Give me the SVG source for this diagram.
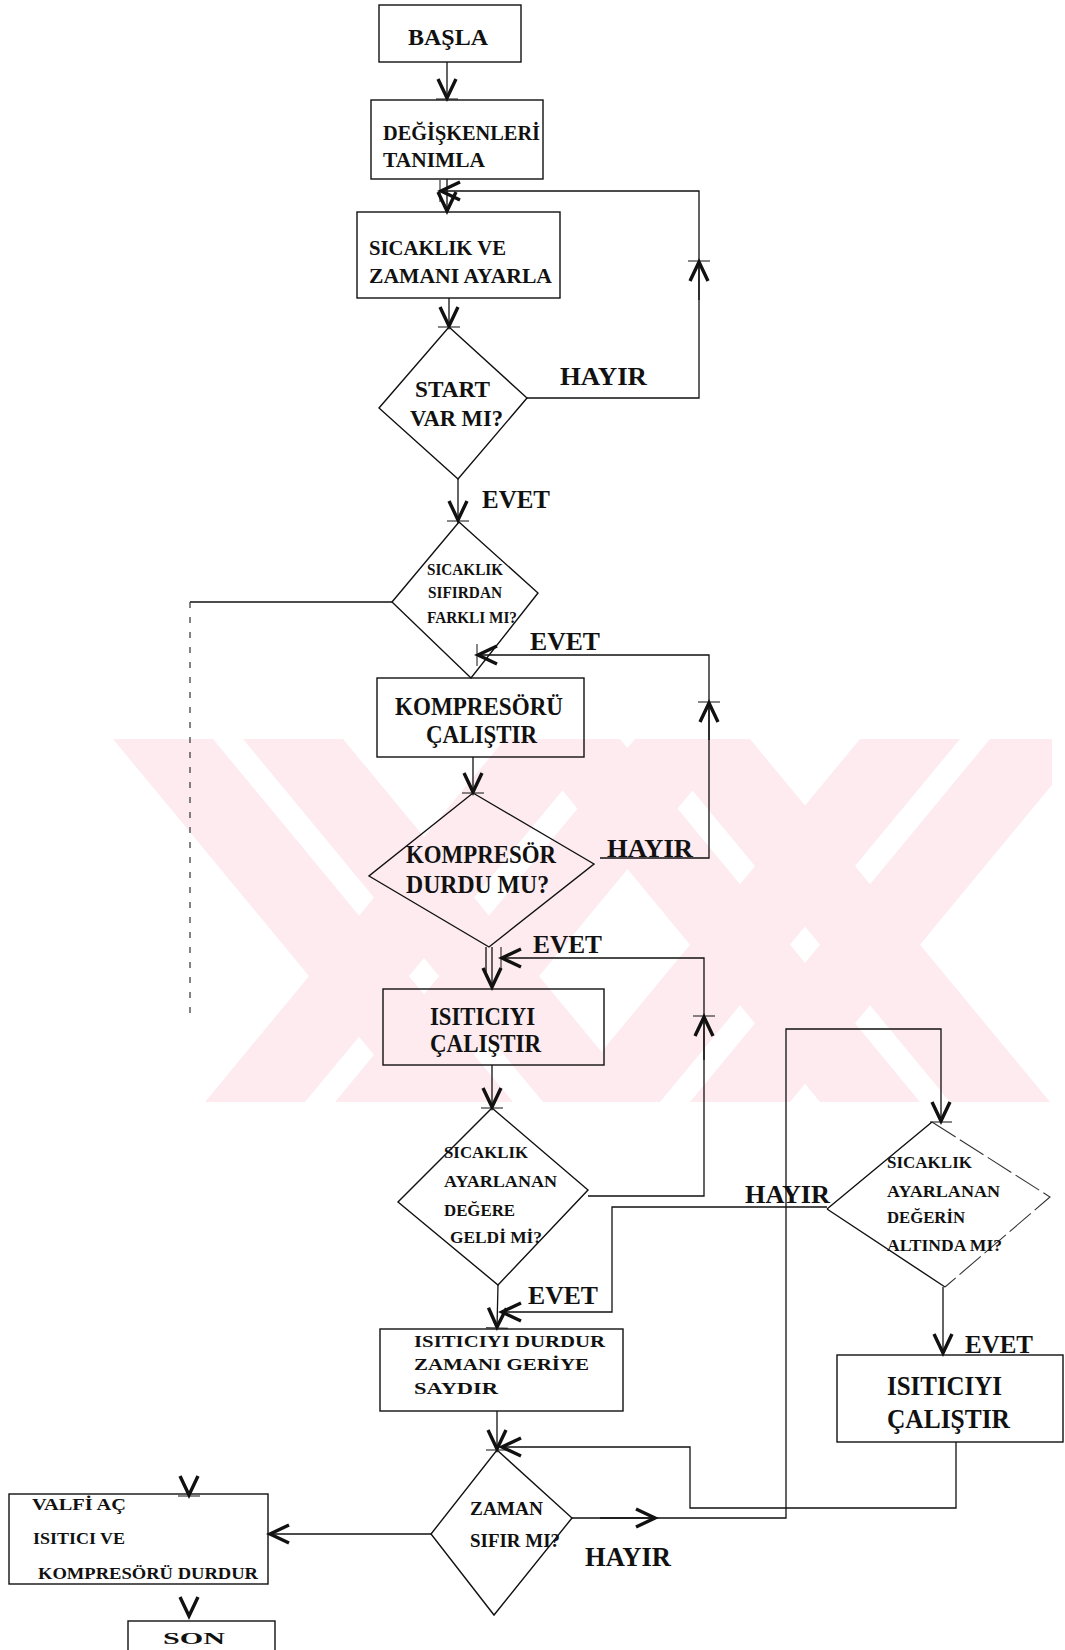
<svg xmlns="http://www.w3.org/2000/svg" width="1065" height="1650" viewBox="0 0 1065 1650">
<style>
.box{fill:none;stroke:#111;stroke-width:1.4}
.ln{fill:none;stroke:#111;stroke-width:1.3}
.dash{fill:none;stroke:#333;stroke-width:1.2;stroke-dasharray:6 9}
.thin{fill:none;stroke:#333;stroke-width:1.1;stroke-dasharray:28 5}
.t{font-family:"Liberation Serif","Times New Roman",serif;font-weight:bold;fill:#111}
.wm{fill:#fdebf0}
</style>
<defs>
<marker id="ah" markerUnits="userSpaceOnUse" markerWidth="26" markerHeight="24" viewBox="-22 -12 26 24" refX="0" refY="0" orient="auto">
<path d="M-19,-9 L0,0 L-19,9" fill="none" stroke="#111" stroke-width="3.4"/>
<path d="M1,-11 L1,11" fill="none" stroke="#111" stroke-width="1"/>
</marker>
<marker id="av" markerUnits="userSpaceOnUse" markerWidth="26" markerHeight="24" viewBox="-22 -12 26 24" refX="0" refY="0" orient="auto">
<path d="M-19,-9 L0,0 L-19,9" fill="none" stroke="#111" stroke-width="3.4"/>
</marker>
<clipPath id="wmclip"><rect x="113" y="739" width="939" height="363"/></clipPath>
</defs>
<rect width="1065" height="1650" fill="#fff"/>
<g id="watermark" clip-path="url(#wmclip)">
<polygon class="wm" points="113,739 213,739 513,1102 413,1102"/>
<polygon class="wm" points="243,739 343,739 643,1102 543,1102"/>
<polygon class="wm" points="205,1102 305,1102 605,739 505,739"/>
<polygon class="wm" points="335,1102 435,1102 735,739 635,739"/>
<polygon class="wm" points="520,739 620,739 920,1102 820,1102"/>
<polygon class="wm" points="650,739 750,739 1050,1102 950,1102"/>
<polygon class="wm" points="560,1102 660,1102 960,739 860,739"/>
<polygon class="wm" points="690,1102 790,1102 1090,739 990,739"/>
</g>
<g id="connectors">
<path class="ln" d="M447,62 L447,98" marker-end="url(#ah)"/>
<path class="ln" d="M447,179 L447,211" marker-end="url(#av)"/>
<path class="ln" d="M527,398 L699,398 L699,191 L441,191" marker-end="url(#ah)"/>
<path class="ln" d="M699,300 L699,262" marker-end="url(#ah)"/>
<path class="ln" d="M449,298 L449,326" marker-end="url(#ah)"/>
<path class="ln" d="M458,479 L458,520" marker-end="url(#ah)"/>
<path class="ln" d="M392,602 L190,602"/>
<path class="dash" d="M190,602 L190,1019"/>
<path d="M189,1470 L189,1495" fill="none" stroke="none" marker-end="url(#ah)"/>
<path class="ln" d="M600,858 L709,858 L709,655 L478,655" marker-end="url(#ah)"/>
<path class="ln" d="M709,740 L709,703" marker-end="url(#ah)"/>
<path class="ln" d="M473,757 L473,792" marker-end="url(#ah)"/>
<path class="ln" d="M486,947 L486,975"/>
<path class="ln" d="M492,947 L492,987" marker-end="url(#av)"/>
<path class="ln" d="M588,1196 L704,1196 L704,958 L502,958" marker-end="url(#ah)"/>
<path class="ln" d="M704,1060 L704,1017" marker-end="url(#ah)"/>
<path class="ln" d="M492,1065 L492,1107" marker-end="url(#ah)"/>
<path class="ln" d="M498,1285 L497,1327" marker-end="url(#ah)"/>
<path class="ln" d="M827,1207 L612,1207 L612,1312 L502,1312" marker-end="url(#av)"/>
<path class="ln" d="M497,1411 L497,1449" marker-end="url(#ah)"/>
<path class="ln" d="M956,1442 L956,1508 L690,1508 L690,1447 L502,1447" marker-end="url(#av)"/>
<path class="ln" d="M572,1518 L786,1518 L786,1029 L941,1029 L941,1121" marker-end="url(#ah)"/>
<path class="ln" d="M600,1518 L655,1518" marker-end="url(#av)"/>
<path class="ln" d="M943,1287 L943,1353" marker-end="url(#av)"/>
<path class="ln" d="M431,1534 L270,1534" marker-end="url(#av)"/>
<path d="M189,1590 L189,1616" fill="none" stroke="none" marker-end="url(#av)"/>
</g>
<g id="labels">
<text class="t" x="560" y="385" font-size="26" textLength="87" lengthAdjust="spacingAndGlyphs">HAYIR</text>
<text class="t" x="482" y="508" font-size="25" textLength="68" lengthAdjust="spacingAndGlyphs">EVET</text>
<text class="t" x="530" y="650" font-size="25" textLength="70" lengthAdjust="spacingAndGlyphs">EVET</text>
<text class="t" x="607" y="857" font-size="25" textLength="86" lengthAdjust="spacingAndGlyphs">HAYIR</text>
<text class="t" x="533" y="953" font-size="25" textLength="69" lengthAdjust="spacingAndGlyphs">EVET</text>
<text class="t" x="528" y="1304" font-size="26" textLength="70" lengthAdjust="spacingAndGlyphs">EVET</text>
<text class="t" x="745" y="1203" font-size="26" textLength="85" lengthAdjust="spacingAndGlyphs">HAYIR</text>
<text class="t" x="965" y="1353" font-size="25" textLength="68" lengthAdjust="spacingAndGlyphs">EVET</text>
<text class="t" x="585" y="1566" font-size="27" textLength="86" lengthAdjust="spacingAndGlyphs">HAYIR</text>
</g>
<g id="basla">
<rect class="box" x="379" y="5" width="142" height="57"/>
<text class="t" x="408" y="45" font-size="24" textLength="80" lengthAdjust="spacingAndGlyphs">BAŞLA</text>
</g>
<g id="degiskenler">
<rect class="box" x="371" y="100" width="172" height="79"/>
<text class="t" x="383" y="140" font-size="22" textLength="157" lengthAdjust="spacingAndGlyphs">DEĞİŞKENLERİ</text>
<text class="t" x="383" y="167" font-size="22" textLength="102" lengthAdjust="spacingAndGlyphs">TANIMLA</text>
</g>
<g id="ayarla">
<rect class="box" x="357" y="212" width="203" height="86"/>
<text class="t" x="369" y="255" font-size="22" textLength="137" lengthAdjust="spacingAndGlyphs">SICAKLIK VE</text>
<text class="t" x="369" y="283" font-size="22" textLength="183" lengthAdjust="spacingAndGlyphs">ZAMANI AYARLA</text>
</g>
<g id="start">
<polygon class="box" points="449,327 527,398 458,479 379,408"/>
<text class="t" x="415" y="397" font-size="24" textLength="75" lengthAdjust="spacingAndGlyphs">START</text>
<text class="t" x="410" y="426" font-size="24" textLength="93" lengthAdjust="spacingAndGlyphs">VAR MI?</text>
</g>
<g id="sifirdan">
<polygon class="box" points="459,522 538,593 471,678 392,602"/>
<text class="t" x="427" y="575" font-size="16" textLength="76" lengthAdjust="spacingAndGlyphs">SICAKLIK</text>
<text class="t" x="428" y="598" font-size="16" textLength="74" lengthAdjust="spacingAndGlyphs">SIFIRDAN</text>
<text class="t" x="427" y="623" font-size="16" textLength="90" lengthAdjust="spacingAndGlyphs">FARKLI MI?</text>
</g>
<g id="kompresoru">
<rect class="box" x="377" y="678" width="207" height="79"/>
<text class="t" x="395" y="715" font-size="26" textLength="168" lengthAdjust="spacingAndGlyphs">KOMPRESÖRÜ</text>
<text class="t" x="426" y="743" font-size="26" textLength="111" lengthAdjust="spacingAndGlyphs">ÇALIŞTIR</text>
</g>
<g id="kompresor-durdu">
<polygon class="box" points="473,793 594,864 489,947 369,876"/>
<text class="t" x="406" y="863" font-size="26" textLength="150" lengthAdjust="spacingAndGlyphs">KOMPRESÖR</text>
<text class="t" x="406" y="893" font-size="26" textLength="143" lengthAdjust="spacingAndGlyphs">DURDU MU?</text>
</g>
<g id="isiticiyi1">
<rect class="box" x="383" y="989" width="221" height="76"/>
<text class="t" x="430" y="1025" font-size="26" textLength="105" lengthAdjust="spacingAndGlyphs">ISITICIYI</text>
<text class="t" x="430" y="1052" font-size="26" textLength="111" lengthAdjust="spacingAndGlyphs">ÇALIŞTIR</text>
</g>
<g id="geldi">
<polygon class="box" points="492,1108 588,1190 498,1285 398,1202"/>
<text class="t" x="444" y="1158" font-size="17" textLength="84" lengthAdjust="spacingAndGlyphs">SICAKLIK</text>
<text class="t" x="444" y="1187" font-size="17" textLength="113" lengthAdjust="spacingAndGlyphs">AYARLANAN</text>
<text class="t" x="444" y="1216" font-size="17" textLength="71" lengthAdjust="spacingAndGlyphs">DEĞERE</text>
<text class="t" x="450" y="1243" font-size="17" textLength="92" lengthAdjust="spacingAndGlyphs">GELDİ Mİ?</text>
</g>
<g id="altinda">
<path class="box" d="M827,1209 L932,1122 M827,1209 L945,1287"/>
<path class="thin" d="M932,1122 L1050,1197 L945,1287"/>
<text class="t" x="887" y="1168" font-size="16" textLength="85" lengthAdjust="spacingAndGlyphs">SICAKLIK</text>
<text class="t" x="887" y="1197" font-size="16" textLength="113" lengthAdjust="spacingAndGlyphs">AYARLANAN</text>
<text class="t" x="887" y="1223" font-size="16" textLength="78" lengthAdjust="spacingAndGlyphs">DEĞERİN</text>
<text class="t" x="887" y="1251" font-size="16" textLength="115" lengthAdjust="spacingAndGlyphs">ALTINDA MI?</text>
</g>
<g id="isiticiyi2">
<rect class="box" x="837" y="1355" width="226" height="87"/>
<text class="t" x="887" y="1395" font-size="28" textLength="115" lengthAdjust="spacingAndGlyphs">ISITICIYI</text>
<text class="t" x="887" y="1428" font-size="28" textLength="123" lengthAdjust="spacingAndGlyphs">ÇALIŞTIR</text>
</g>
<g id="durdur">
<rect class="box" x="380" y="1329" width="243" height="82"/>
<text class="t" x="414" y="1347" font-size="17" textLength="191" lengthAdjust="spacingAndGlyphs">ISITICIYI DURDUR</text>
<text class="t" x="414" y="1370" font-size="17" textLength="175" lengthAdjust="spacingAndGlyphs">ZAMANI GERİYE</text>
<text class="t" x="414" y="1394" font-size="17" textLength="84" lengthAdjust="spacingAndGlyphs">SAYDIR</text>
</g>
<g id="zaman">
<polygon class="box" points="497,1450 572,1518 494,1615 431,1534"/>
<text class="t" x="470" y="1515" font-size="18" textLength="73" lengthAdjust="spacingAndGlyphs">ZAMAN</text>
<text class="t" x="470" y="1547" font-size="18" textLength="90" lengthAdjust="spacingAndGlyphs">SIFIR MI?</text>
</g>
<g id="valfi">
<rect class="box" x="9" y="1494" width="259" height="90"/>
<text class="t" x="32" y="1510" font-size="17" textLength="94" lengthAdjust="spacingAndGlyphs">VALFİ AÇ</text>
<text class="t" x="33" y="1544" font-size="17" textLength="92" lengthAdjust="spacingAndGlyphs">ISITICI VE</text>
<text class="t" x="38" y="1579" font-size="17" textLength="220" lengthAdjust="spacingAndGlyphs">KOMPRESÖRÜ DURDUR</text>
</g>
<g id="son">
<rect class="box" x="128" y="1621" width="147" height="34"/>
<text class="t" x="163" y="1644" font-size="17" textLength="62" lengthAdjust="spacingAndGlyphs">SON</text>
</g>
</svg>
